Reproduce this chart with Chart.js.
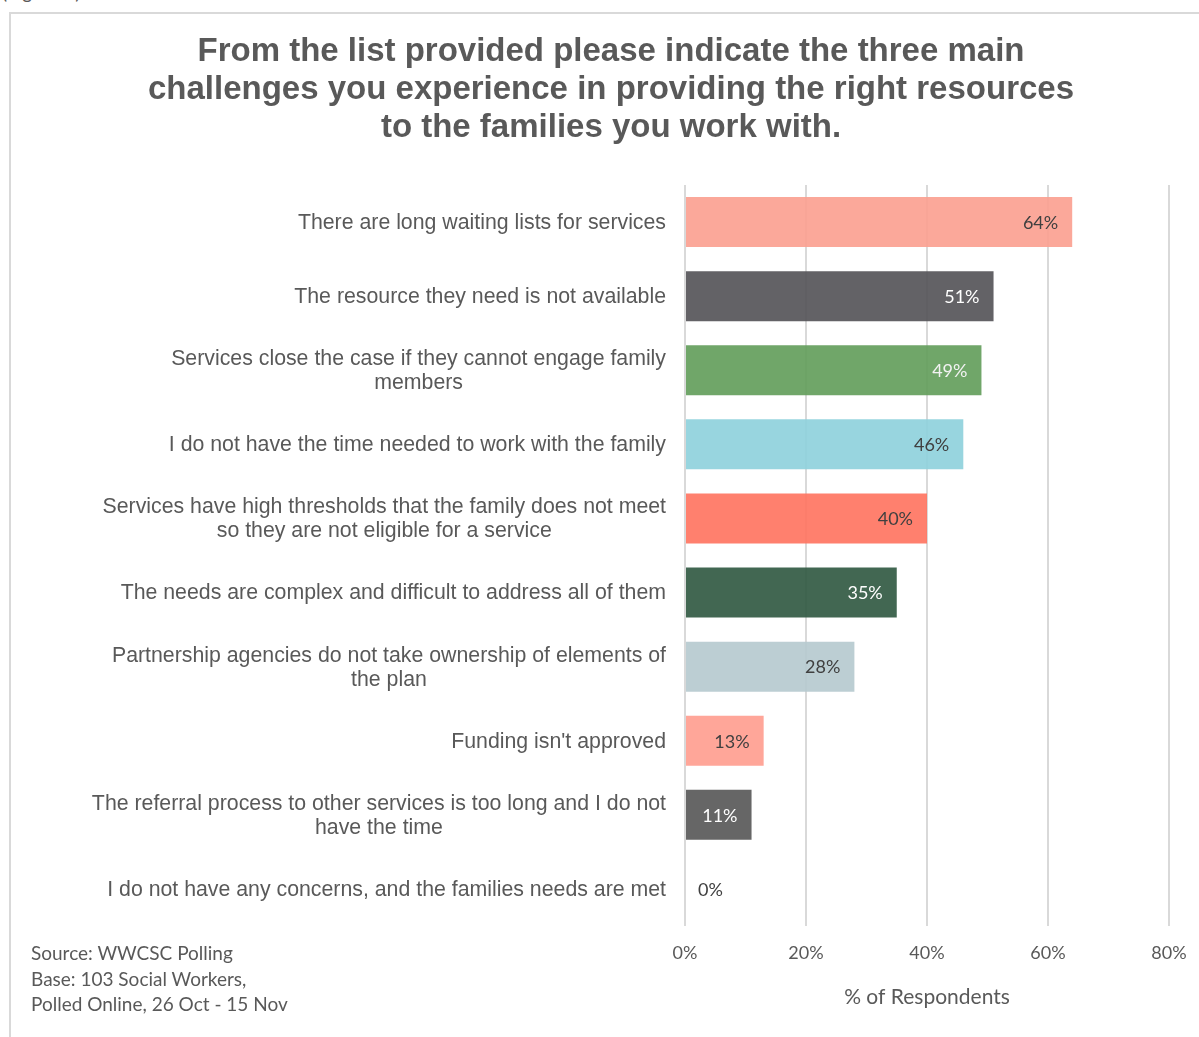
<!DOCTYPE html>
<html>
<head>
<meta charset="utf-8">
<title>Challenges in providing the right resources</title>
<script src="https://cdn.jsdelivr.net/npm/chart.js@4"></script>
<style>
  html, body { margin: 0; padding: 0; background: #ffffff; overflow: hidden; }
  #wrap { position: relative; width: 1199px; height: 1037px; }
  #frame {
    position: absolute; left: 9px; top: 12px; width: 1300px; height: 1200px;
    border-left: 2px solid #d9d9d9; border-top: 2px solid #d9d9d9; box-sizing: border-box;
  }
  #fig {
    position: absolute; left: 2px; top: -20px; font: 19px Lato, sans-serif; color: #595959;
  }
  #source {
    position: absolute; left: 31px; top: 940px; font: 19px Lato, sans-serif; color: #595959;
    line-height: 25.5px;
  }
  #chartBox { position: absolute; left: 0; top: 0; width: 1199px; height: 1037px; }
</style>
</head>
<body>
<div id="wrap">
  <div id="frame"></div>
  <div id="fig">(Figure 1)</div>
  <div id="chartBox"><canvas id="c"></canvas></div>
  <div id="source">Source: WWCSC Polling<br>Base: 103 Social Workers,<br>Polled Online, 26 Oct - 15 Nov</div>
</div>
<script>
// Survey answers, each label split into the lines it is printed on
const categories = [
  ['There are long waiting lists for services'],
  ['The resource they need is not available'],
  ['Services close the case if they cannot engage family', 'members'],
  ['I do not have the time needed to work with the family'],
  ['Services have high thresholds that the family does not meet', 'so they are not eligible for a service'],
  ['The needs are complex and difficult to address all of them'],
  ['Partnership agencies do not take ownership of elements of', 'the plan'],
  ["Funding isn't approved"],
  ['The referral process to other services is too long and I do not', 'have the time'],
  ['I do not have any concerns, and the families needs are met']
];

// Share of respondents choosing each answer (%)
const percentages = [64, 51, 49, 46, 40, 35, 28, 13, 11, 0];

// Axis ticks (%)
const xTicks = [0, 20, 40, 60, 80];

const titleLines = [
  'From the list provided please indicate the three main',
  'challenges you experience in providing the right resources',
  'to the families you work with.'
];

// Bar fills and the colour of the value printed on each bar
const barColors = [
  'rgba(251,158,143,0.9)', 'rgba(82,81,85,0.9)', 'rgba(96,156,89,0.9)', 'rgba(141,208,219,0.9)',
  'rgba(255,114,94,0.9)', 'rgba(46,86,63,0.9)', 'rgba(181,201,206,0.9)', 'rgba(255,156,142,0.9)',
  'rgba(85,85,85,0.9)', 'rgba(200,200,200,0.9)'
];
const valueColors = [
  '#404040', '#ffffff', '#f2f2f2', '#404040', '#404040',
  '#ffffff', '#404040', '#404040', '#ffffff', '#404040'
];

const TEXT = '#595959';

// Category labels: right-aligned block, lines centred within it
const categoryLabels = {
  id: 'categoryLabels',
  afterDraw(chart) {
    const ctx = chart.ctx;
    const y = chart.scales.y;
    const right = chart.chartArea.left - 19;
    const lh = 24;
    ctx.save();
    ctx.font = '21.3px "Liberation Sans", Arial, sans-serif';
    ctx.fillStyle = TEXT;
    ctx.textAlign = 'center';
    ctx.textBaseline = 'middle';
    categories.forEach((lines, i) => {
      const cy = y.getPixelForValue(i) + 1;
      const w = Math.max(...lines.map(l => ctx.measureText(l).width));
      const cx = right - w / 2;
      const y0 = cy - (lines.length - 1) * lh / 2;
      lines.forEach((l, k) => ctx.fillText(l, cx, y0 + k * lh));
    });
    ctx.restore();
  }
};

// Value labels at the inner end of each bar
const valueLabels = {
  id: 'valueLabels',
  afterDatasetsDraw(chart) {
    const ctx = chart.ctx;
    const meta = chart.getDatasetMeta(0);
    ctx.save();
    ctx.font = '18px Lato, sans-serif';
    ctx.textBaseline = 'middle';
    meta.data.forEach((bar, i) => {
      const v = percentages[i];
      ctx.fillStyle = valueColors[i];
      if (v > 0) {
        ctx.textAlign = 'right';
        ctx.fillText(v + '%', bar.x - 14, bar.y + 1);
      } else {
        ctx.textAlign = 'left';
        ctx.fillText(v + '%', bar.base + 13, bar.y + 1);
      }
    });
    ctx.restore();
  }
};

new Chart(document.getElementById('c'), {
  type: 'bar',
  data: {
    labels: categories.map(l => l.join(' ')),
    datasets: [{
      data: percentages,
      backgroundColor: barColors,
      borderWidth: 0,
      categoryPercentage: 1,
      barPercentage: 0.675
    }]
  },
  options: {
    indexAxis: 'y',
    responsive: true,
    maintainAspectRatio: false,
    animation: false,
    layout: { padding: { top: 12, left: 53, right: 30, bottom: 0 } },
    plugins: {
      legend: { display: false },
      tooltip: { enabled: false },
      title: {
        display: true,
        text: titleLines,
        color: TEXT,
        font: { family: '"Liberation Sans", Arial, sans-serif', size: 33, weight: 'bold', lineHeight: '38px' },
        padding: { top: 21, bottom: 38 }
      }
    },
    scales: {
      x: {
        min: 0,
        max: 80,
        afterBuildTicks(scale) { scale.ticks = xTicks.map(v => ({ value: v })); },
        afterFit(scale) {
          scale.height = 111;
          scale.paddingLeft = 10;
          scale.paddingRight = 10;
        },
        grid: { color: '#d9d9d9', lineWidth: 2, drawTicks: false },
        border: { display: false },
        ticks: {
          padding: 16,
          color: TEXT,
          font: { family: 'Lato, sans-serif', size: 18 },
          callback: v => v + '%'
        },
        title: {
          display: true,
          text: '% of Respondents',
          color: TEXT,
          font: { family: 'Lato, sans-serif', size: 21 },
          padding: { top: 4, bottom: 27 }
        }
      },
      y: {
        afterFit(scale) { scale.width = 632; },
        grid: { display: false },
        border: { display: false },
        ticks: { display: false }
      }
    }
  },
  plugins: [categoryLabels, valueLabels]
});
</script>
</body>
</html>
